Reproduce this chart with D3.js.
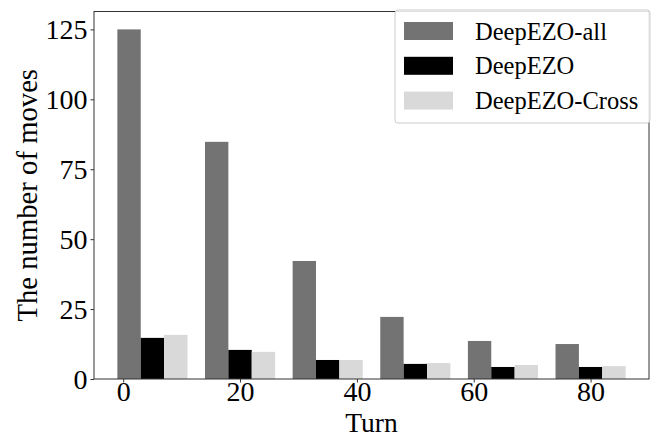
<!DOCTYPE html>
<html>
<head>
<meta charset="utf-8">
<script src="https://cdn.jsdelivr.net/npm/d3@7"></script>
<style>
  body { margin: 0; background: #fff; }
  text { font-family: "Liberation Serif", "DejaVu Serif", serif; fill: #000; }
</style>
</head>
<body>
<div id="chart"></div>
<script>
// data
let turns = [0, 15, 30, 45, 60, 75]
let seriesNames = ['DeepEZO-all', 'DeepEZO', 'DeepEZO-Cross']
let allMoves = [125, 84.8, 42.2, 22.2, 13.6, 12.5]
let ezoMoves = [14.7, 10.4, 6.8, 5.4, 4.3, 4.3]
let crossMoves = [15.8, 9.7, 6.8, 5.7, 5.0, 4.6]
let xTicks = [0, 20, 40, 60, 80]
let yTicks = [0, 25, 50, 75, 100, 125]
let colors = ['#737373', '#000000', '#d9d9d9']

let width = 656, height = 438
let margin = { top: 11.5, right: 7, bottom: 59, left: 94 }

let svg = d3.select('#chart')
  .append('svg')
  .attr('width', width)
  .attr('height', height)

let x = d3.scaleLinear()
  .domain([-5, 90])
  .range([margin.left, width - margin.right])
let y = d3.scaleLinear()
  .domain([0, 131.4])
  .range([height - margin.bottom, margin.top])

let barW = 4
let series = [allMoves, ezoMoves, crossMoves]

// bars, each series shifted by one bar width
series.forEach((vals, s) => {
  svg.append('g')
    .selectAll('rect')
    .data(vals)
    .enter()
    .append('rect')
    .attr('x', (d, i) => x(turns[i] - 1 + s * barW))
    .attr('width', x(barW) - x(0))
    .attr('y', d => y(d))
    .attr('height', d => y(0) - y(d))
    .attr('fill', colors[s])
})

// frame
svg.append('rect')
  .attr('x', margin.left)
  .attr('y', margin.top)
  .attr('width', width - margin.left - margin.right)
  .attr('height', height - margin.top - margin.bottom)
  .attr('fill', 'none')
  .attr('stroke', '#333')
  .attr('stroke-width', 1)

let xAxis = svg.append('g')
  .attr('transform', `translate(0, ${height - margin.bottom})`)
  .call(d3.axisBottom(x).tickValues(xTicks).tickSize(3.5).tickPadding(3))
let yAxis = svg.append('g')
  .attr('transform', `translate(${margin.left}, 0)`)
  .call(d3.axisLeft(y).tickValues(yTicks).tickSize(3.5).tickPadding(3))

;[xAxis, yAxis].forEach(a => {
  a.select('.domain').remove()
  a.selectAll('line').attr('stroke', '#333')
  a.selectAll('text')
    .style('font-family', '"Liberation Serif", serif')
    .style('font-size', '28px')
    .attr('fill', '#000')
})
xAxis.selectAll('text').attr('dy', '0.57em')
yAxis.selectAll('text').attr('dy', '0.34em')

// axis labels
svg.append('text')
  .attr('x', (margin.left + width - margin.right) / 2)
  .attr('y', 431.8)
  .attr('text-anchor', 'middle')
  .style('font-size', '27.5px')
  .text('Turn')

svg.append('text')
  .attr('transform', `translate(37, ${(margin.top + height - margin.bottom) / 2}) rotate(-90)`)
  .attr('text-anchor', 'middle')
  .style('font-size', '28.7px')
  .text('The number of moves')

// legend
let legend = svg.append('g').attr('transform', 'translate(395, 10)')
legend.append('rect')
  .attr('width', 255)
  .attr('height', 113)
  .attr('rx', 3)
  .attr('fill', '#fff')
  .attr('fill-opacity', 0.85)
  .attr('stroke', '#ccc')

let rows = legend.selectAll('.lrow')
  .data(seriesNames)
  .enter()
  .append('g')
  .attr('class', 'lrow')
  .attr('transform', (d, i) => `translate(0, ${21 + i * 34.8})`)

rows.append('rect')
  .attr('x', 9)
  .attr('y', -9)
  .attr('width', 49)
  .attr('height', 18)
  .attr('fill', (d, i) => colors[i])
rows.append('text')
  .attr('x', 80)
  .attr('y', 8.5)
  .style('font-size', '24.5px')
  .text(d => d)
</script>
</body>
</html>
